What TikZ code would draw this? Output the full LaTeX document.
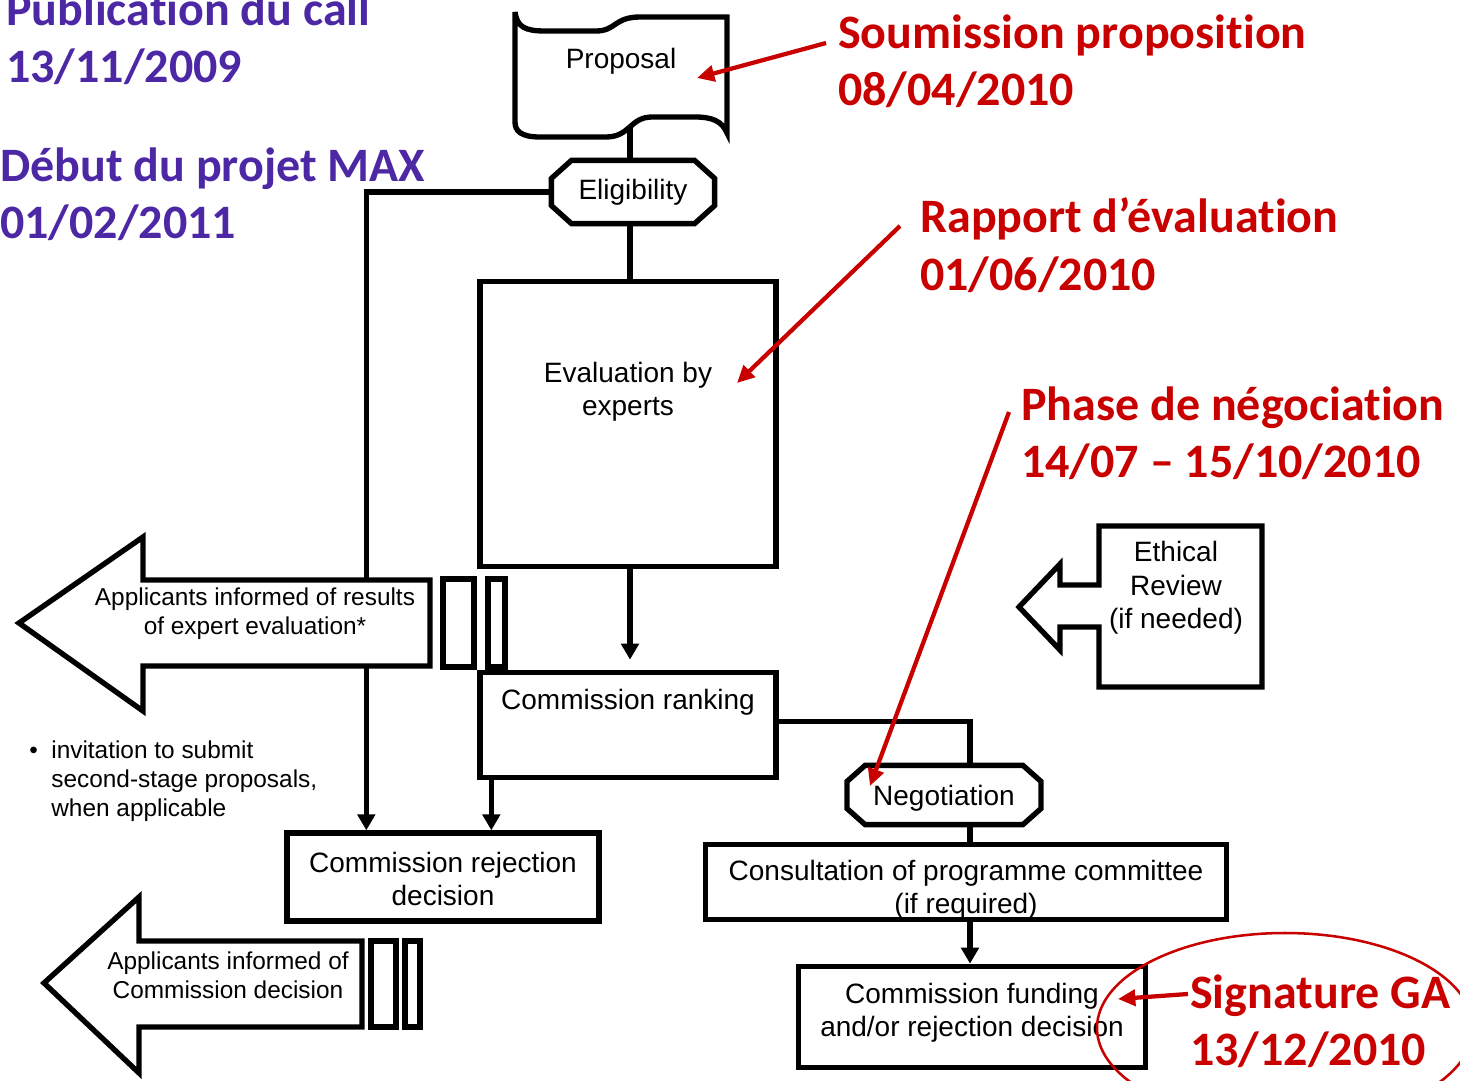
\documentclass[tikz,border=0pt]{standalone}
\usepackage{fontspec}
\setmainfont{Liberation Sans}
\newfontfamily\calfont{Carlito}
\newcommand\nlg{\kern0pt{}}
\usetikzlibrary{arrows.meta,calc}
\definecolor{annred}{RGB}{200,0,0}
\definecolor{annpurple}{RGB}{76,40,165}
\tikzset{
  boxline/.style={line width=4pt,draw=black,line join=miter},
  box/.style={boxline,fill=white,rectangle,inner sep=0pt},
  ghost/.style={rectangle,inner sep=0pt,draw=none},
  txt/.style={font=\fontsize{21}{25}\selectfont,align=center,inner sep=0pt},
  smalltxt/.style={font=\fontsize{18.3}{21.8}\selectfont,align=center,inner sep=0pt},
  conn/.style={line width=4pt,draw=black},
  connarrow/.style={conn,-{Triangle[length=12pt,width=13pt]}},
  purple note/.style={font=\calfont\bfseries\fontsize{36}{43}\selectfont,text=annpurple,align=left,inner sep=0pt},
  red note/.style={font=\calfont\bfseries\fontsize{36}{43}\selectfont,text=annred,align=left,inner sep=0pt},
  redarrow/.style={line width=3.2pt,draw=annred,-{Triangle[length=13pt,width=12pt]}},
}
\begin{document}
\begin{tikzpicture}[x=0.75pt,y=-0.75pt]
\useasboundingbox (0,0) rectangle (1460,1081);

% ---------- nodes (boxes) ----------
\node[ghost,minimum width=212,minimum height=118] (proposal) at (621,76) {};
\node[ghost,minimum width=122pt,minimum height=47pt] (elig) at (633,192) {};
\node[box,minimum width=222pt,minimum height=214pt] (eval) at (628,424) {};
\node[box,minimum width=222pt,minimum height=79pt] (rank) at (628,725) {};
\node[box,minimum width=234pt,minimum height=66pt] (rej) at (443,877) {};
\node[ghost,minimum width=145pt,minimum height=44pt] (neg) at (944,795) {};
\node[box,minimum width=391pt,minimum height=56pt] (cons) at (966,882) {};
\node[box,minimum width=260pt,minimum height=76pt] (fund) at (972,1017) {};

% ---------- connectors ----------
\coordinate (propbot) at (630,118);
\draw[conn] (propbot) -- (propbot |- elig.north);
\draw[conn] (propbot |- elig.south) -- (propbot |- eval.north);
\coordinate (rejleft) at ($(rej.north west)+(82,0)$);
\draw[connarrow] (elig.west) -| (rejleft);
\draw[connarrow] (propbot |- eval.south) -- ($(propbot |- rank.north)+(0,-10)$);
\coordinate (rankleft) at ($(rank.south west)+(14,0)$);
\draw[connarrow] (rankleft) -- (rankleft |- rej.north);
\coordinate (negin) at ($(neg.north)+(26,0)$);
\draw[conn] ($(rank.north east)+(0,52)$) -| (negin);
\draw[conn] (negin |- neg.south) -- (negin |- cons.north);
\draw[connarrow] (negin |- cons.south) -- (negin |- fund.north);

% ---------- proposal (wavy document) ----------
\draw[boxline,fill=white] (515,12) .. controls (517,27) and (525,31) .. (545,31)
  -- (596,31) .. controls (616,31) and (614,17) .. (640,17) -- (727,17) -- (727,133)
  .. controls (722,121) and (712,117) .. (695,117) -- (652,117)
  .. controls (630,117) and (630,137) .. (606,137) -- (540,137)
  .. controls (521,137) and (515,131) .. (515,122) -- cycle;
\node[txt] (proptxt) at (621,61) {Proposal};

% ---------- eligibility / negotiation octagons ----------
\draw[boxline,fill=white]
  ($(elig.north west)+(20,0)$) -- ($(elig.north east)+(-20,0)$) -- ($(elig.north east)+(0,18)$)
  -- ($(elig.south east)+(0,-18)$) -- ($(elig.south east)+(-20,0)$) -- ($(elig.south west)+(20,0)$)
  -- ($(elig.south west)+(0,-18)$) -- ($(elig.north west)+(0,18)$) -- cycle;
\node[txt] (eligtxt) at (elig) {Eligibility};
\draw[boxline,fill=white]
  ($(neg.north west)+(18,0)$) -- ($(neg.north east)+(-18,0)$) -- ($(neg.north east)+(0,16)$)
  -- ($(neg.south east)+(0,-16)$) -- ($(neg.south east)+(-18,0)$) -- ($(neg.south west)+(18,0)$)
  -- ($(neg.south west)+(0,-16)$) -- ($(neg.north west)+(0,16)$) -- cycle;
\node[txt] (negtxt) at ($(neg)+(0,3)$) {Negotiation};

% ---------- texts in boxes ----------
\node[txt] (evaltxt) at (628,392) {Evaluation by\\experts};
\node[txt] (ranktxt) at (628,702) {Commission ranking};
\node[txt] (rejtxt) at (443,879) {Commission rejection\\decision};
\node[txt] (constxt) at (966,890) {Consultation of programme committee\\(if required)};
\node[txt] (fundtxt) at (972,1013) {Commission funding\\and/or rejection decision};

% ---------- big left arrows ----------
\draw[boxline,fill=white] (19,623) -- (143,537) -- (143,580) -- (430,580) -- (430,666)
  -- (143,666) -- (143,711) -- cycle;
\draw[boxline] (443,579) rectangle (474,667);
\draw[boxline] (488,579) rectangle (505,667);
\node[smalltxt] (inf1) at (255,614) {Applicants informed of results\\of expert evaluation*};

\draw[boxline,fill=white] (44,983) -- (139,897) -- (139,941) -- (362,941) -- (362,1027)
  -- (139,1027) -- (139,1073) -- cycle;
\draw[boxline] (371,941) rectangle (396,1027);
\draw[boxline] (405,941) rectangle (420,1027);
\node[smalltxt] (inf2) at (228,975) {Applicants informed of\\Commission decision};

\node[smalltxt,align=left,anchor=west] (invit) at (29,781)
  {\textbullet\ \ invitation to submit\\\phantom{\textbullet\ \ }second-stage proposals,\\\phantom{\textbullet\ \ }when applicable};

% ---------- ethical review ----------
\draw[boxline,fill=white] (1099,526) -- (1262,526) -- (1262,687) -- (1099,687) -- (1099,627)
  -- (1060,627) -- (1060,650) -- (1019,607) -- (1060,564) -- (1060,585) -- (1099,585) -- cycle;
\node[txt] (ethtxt) at (1176,588) {Ethical\\Review\\(if needed)};

% ---------- annotations ----------
\node[purple note,anchor=west] (pub) at (6,38) {Publicat\nlg ion du call\\13/11/2009};
\node[purple note,anchor=west] (debut) at (0,194) {Début du projet MAX\\01/02/2011};

\node[red note,anchor=west] (soum) at (838,61) {Soumission proposit\nlg ion\\08/04/2010};
\node[red note,anchor=west] (rapp) at (920,245) {Rapport d’évaluat\nlg ion\\01/06/2010};
\node[red note,anchor=west] (phase) at (1021,433) {Phase de négociat\nlg ion\\14/07 – 15/10/2010};
\node[red note,anchor=west] (sig) at (1190,1021) {Signature GA\\13/12/2010};

\coordinate (soumtip) at (697,78);
\coordinate (rapptip) at (737,383);
\coordinate (phasetip) at (870,786);
\coordinate (sigtip) at (1118,999);
\draw[redarrow] ($(soum.west)+(-12,-18)$) -- (soumtip);
\draw[redarrow] ($(rapp.west)+(-20,-19)$) -- (rapptip);
\draw[redarrow] ($(phase.west)+(-12,-21)$) -- (phasetip);
\draw[redarrow] ($(sig.west)+(-2,-27)$) -- (sigtip);
\draw[annred,line width=1.9pt] (1285,1028) ellipse [x radius=188, y radius=95];
\end{tikzpicture}
\end{document}
